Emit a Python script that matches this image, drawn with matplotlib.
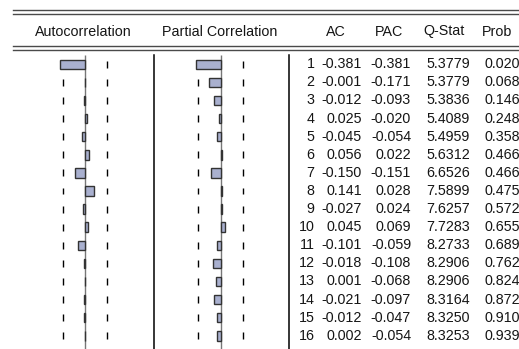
import numpy as np
import matplotlib.pyplot as plt

plt.rcParams['font.family'] = ['Liberation Sans', 'DejaVu Sans']

lags = np.arange(1, 17)
ac = [-0.381, -0.001, -0.012, 0.025, -0.045, 0.056, -0.150, 0.141,
      -0.027, 0.045, -0.101, -0.018, 0.001, -0.021, -0.012, 0.002]
pac = [-0.381, -0.171, -0.093, -0.020, -0.054, 0.022, -0.151, 0.028,
       0.024, 0.069, -0.059, -0.108, -0.068, -0.097, -0.047, -0.054]
qstat = [5.3779, 5.3779, 5.3836, 5.4089, 5.4959, 5.6312, 6.6526, 7.5899,
         7.6257, 7.7283, 8.2733, 8.2906, 8.2906, 8.3164, 8.3250, 8.3253]
prob = [0.020, 0.068, 0.146, 0.248, 0.358, 0.466, 0.466, 0.475,
        0.572, 0.655, 0.689, 0.762, 0.824, 0.872, 0.910, 0.939]
n_obs = 34
bound = 2 / np.sqrt(n_obs)

W, H = 519, 349
row0, step = 64.3, 18.1   # pixel centre of lag 1, row pitch
ytop = 1 - row0 / step
ybot = 1 + (H - row0) / step
ystart = 1 + (55 - row0) / step   # where the panel lines begin

fig = plt.figure(figsize=(W / 100, H / 100), dpi=100)

# base axes in pixel units for header rules and titles
base = fig.add_axes([0, 0, 1, 1])
base.set_xlim(0, W)
base.set_ylim(H, 0)
base.axis('off')
for y in (10, 13.5, 46, 50):
    base.plot([13, W], [y, y], color='#4a4a4a', lw=1.0)
for x in (153.5, 289):
    base.plot([x, x], [55, H], color='black', lw=1.1)

txt = dict(fontsize=10.3, color='#151515')
base.text(83, 35.5, 'Autocorrelation', ha='center', va='baseline', **txt)
base.text(220, 35.5, 'Partial Correlation', ha='center', va='baseline', **txt)
for label, xc in zip(['AC', 'PAC', 'Q-Stat', 'Prob'], [336, 389.5, 444, 497]):
    base.text(xc, 35.5, label, ha='center', va='baseline', **txt)


def panel(x0, x1, vals):
    ax = fig.add_axes([x0 / W, 0, (x1 - x0) / W, 1])
    ax.set_xlim(-1, 1)
    ax.set_ylim(ybot, ytop)
    ax.axis('off')
    ax.vlines(0, ystart, ybot, color='#777777', lw=1.0, zorder=1)
    for b in (-bound, bound):
        ax.vlines(np.full(len(lags), b), lags - 0.19, lags + 0.19,
                  color='black', lw=1.0)
    ax.barh(lags, vals, height=0.53, left=0, color='#a9b0cf',
            edgecolor='#333333', linewidth=1.0, zorder=2)
    return ax


panel(20, 150, ac)
panel(155.5, 285.5, pac)

tab = fig.add_axes([0, 0, 1, 1])
tab.set_xlim(0, W)
tab.set_ylim(ybot, ytop)
tab.axis('off')
for i, lag in enumerate(lags):
    yb = lag + 0.22
    tab.text(314.5, yb, str(lag), ha='right', va='baseline', **txt)
    tab.text(362, yb, f'{ac[i]:.3f}', ha='right', va='baseline', **txt)
    tab.text(411, yb, f'{pac[i]:.3f}', ha='right', va='baseline', **txt)
    tab.text(470, yb, f'{qstat[i]:.4f}', ha='right', va='baseline', **txt)
    tab.text(520, yb, f'{prob[i]:.3f}', ha='right', va='baseline', **txt)

fig.savefig('out.png', dpi=100)
